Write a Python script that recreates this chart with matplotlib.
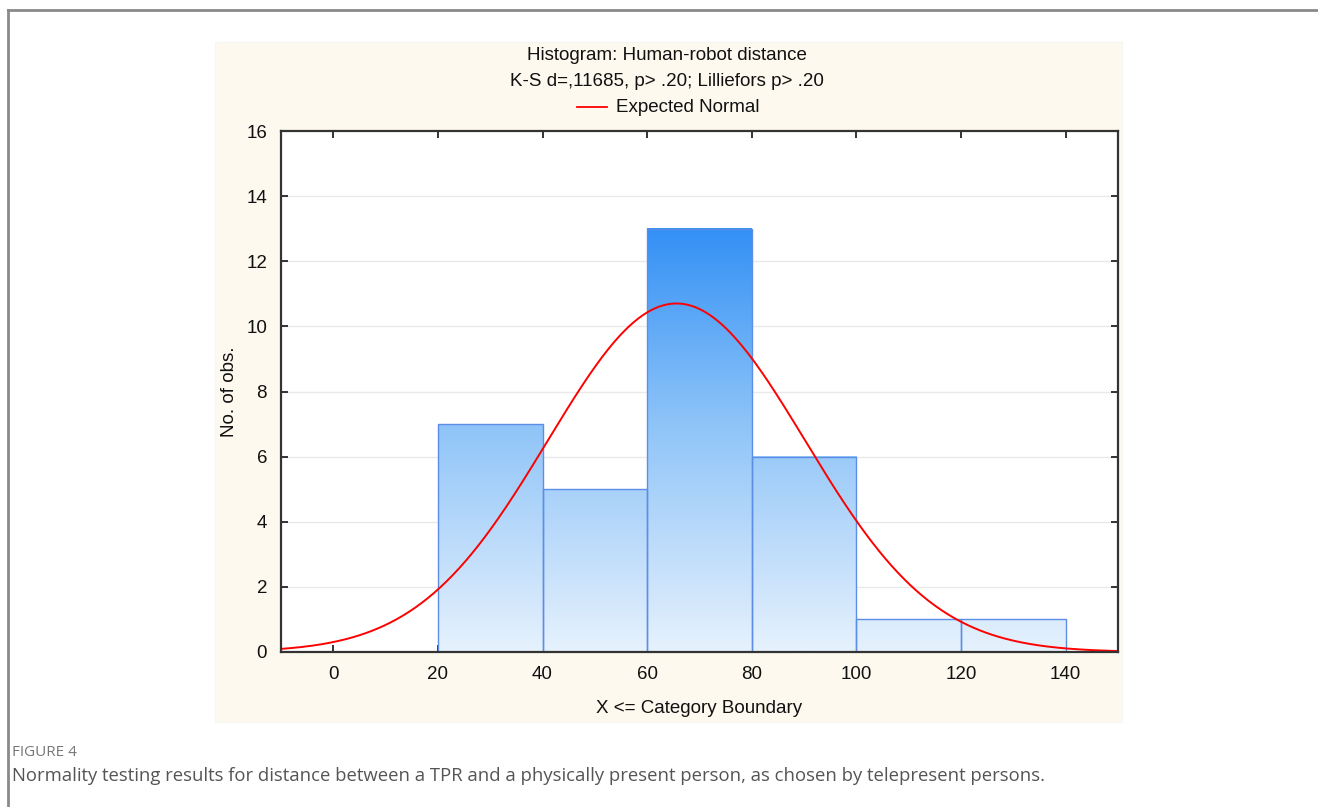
import numpy as np
import matplotlib
matplotlib.use("Agg")
import matplotlib.pyplot as plt
from matplotlib.patches import Rectangle
from matplotlib.lines import Line2D
from matplotlib.colors import LinearSegmentedColormap

# ---- data ----
bin_edges = [20, 40, 60, 80, 100, 120, 140]
counts = [7, 5, 13, 6, 1, 1]
fit_mean = 65.6
fit_sd = 24.6
n_obs = 33
bin_width = 20
x_ticks = [0, 20, 40, 60, 80, 100, 120, 140]
y_ticks = [0, 2, 4, 6, 8, 10, 12, 14, 16]

title1 = "Histogram: Human-robot distance"
title2 = "K-S d=,11685, p> .20; Lilliefors p> .20"
legend_label = "Expected Normal"
xlabel = "X <= Category Boundary"
ylabel = "No. of obs."
fig_label = "FIGURE 4"
caption = "Normality testing results for distance between a TPR and a physically present person, as chosen by telepresent persons."

plt.rcParams['font.family'] = ['Liberation Sans', 'DejaVu Sans']

fig = plt.figure(figsize=(13.18, 8.07), dpi=100)
fig.patch.set_facecolor('white')

# outer border (left and top)
fig.add_artist(Line2D([8/1318, 8/1318], [0, 1 - 10/807], transform=fig.transFigure, color='#8a8a8a', lw=2))
fig.add_artist(Line2D([8/1318, 1], [1 - 10/807, 1 - 10/807], transform=fig.transFigure, color='#8a8a8a', lw=2))

# cream panel
fig.add_artist(Rectangle((215/1318, 1 - 722/807), 907/1318, 680/807, transform=fig.transFigure,
                         facecolor='#fdf9ee', edgecolor='#f6f6f4', lw=1, zorder=0))

ax = fig.add_axes([281/1318, 155/807, 837/1318, 521/807])
ax.set_facecolor('white')

# gridlines
for yv in y_ticks[1:-1]:
    ax.axhline(yv, color='#e9e9e9', lw=1, zorder=1)

# gradient bars (colour tied to height in data units)
cmap = LinearSegmentedColormap.from_list(
    'bl', [(0.0, '#e6f2fd'), (0.25, '#bedcfb'), (0.54, '#8ec4f8'), (1.0, '#3390f5')])
vmax = max(counts)
for x0, x1, c in zip(bin_edges[:-1], bin_edges[1:], counts):
    vals = np.linspace(0, c / vmax, 256).reshape(-1, 1)
    ax.imshow(vals, cmap=cmap, vmin=0, vmax=1, extent=(x0, x1, 0, c), origin='lower',
              aspect='auto', zorder=2, interpolation='bilinear')
    ax.add_patch(Rectangle((x0, 0), x1 - x0, c, facecolor='none', edgecolor='#5c8ee8', lw=1.0, zorder=3))

ax.set_xlim(-10, 150)
ax.set_ylim(0, 16)

# expected normal
xs = np.linspace(-10, 150, 400)
ys = n_obs * bin_width / (fit_sd * np.sqrt(2 * np.pi)) * np.exp(-0.5 * ((xs - fit_mean) / fit_sd) ** 2)
ax.plot(xs, ys, color='#ff0000', lw=1.4, zorder=4, clip_on=False)

# axes styling
for s in ax.spines.values():
    s.set_color('#333333')
    s.set_linewidth(1.6)
    s.set_zorder(5)
ax.set_xticks(x_ticks)
ax.set_yticks(y_ticks)
ax.tick_params(direction='in', length=5, width=1.4, color='#333333', top=True, right=True,
               labelsize=13.5, labelcolor='#111111')
ax.tick_params(axis='x', pad=10)
ax.tick_params(axis='y', pad=10)
ax.set_xlabel(xlabel, fontsize=13.5, color='#111111', labelpad=12)
ax.set_ylabel(ylabel, fontsize=13.5, color='#111111', labelpad=6)

# titles and legend
cx = 667 / 1318
fig.text(cx, 1 - 55/807, title1, ha='center', va='center', fontsize=13.5, color='#111111')
fig.text(cx, 1 - 81/807, title2, ha='center', va='center', fontsize=13.5, color='#111111')
fig.add_artist(Line2D([577/1318, 607/1318], [1 - 107/807, 1 - 107/807], transform=fig.transFigure,
                      color='#ff0000', lw=1.3))
fig.text(616/1318, 1 - 107/807, legend_label, ha='left', va='center', fontsize=13.5, color='#111111')

# caption
fig.text(12/1318, 1 - 752/807, fig_label, ha='left', va='center', fontsize=11,
         color='#777777', family=['Open Sans', 'DejaVu Sans'])
fig.text(12/1318, 1 - 776/807, caption, ha='left', va='center', fontsize=13.3,
         color='#555555', family=['Open Sans', 'DejaVu Sans'])

fig.savefig('out.png', dpi=100, facecolor='white')
